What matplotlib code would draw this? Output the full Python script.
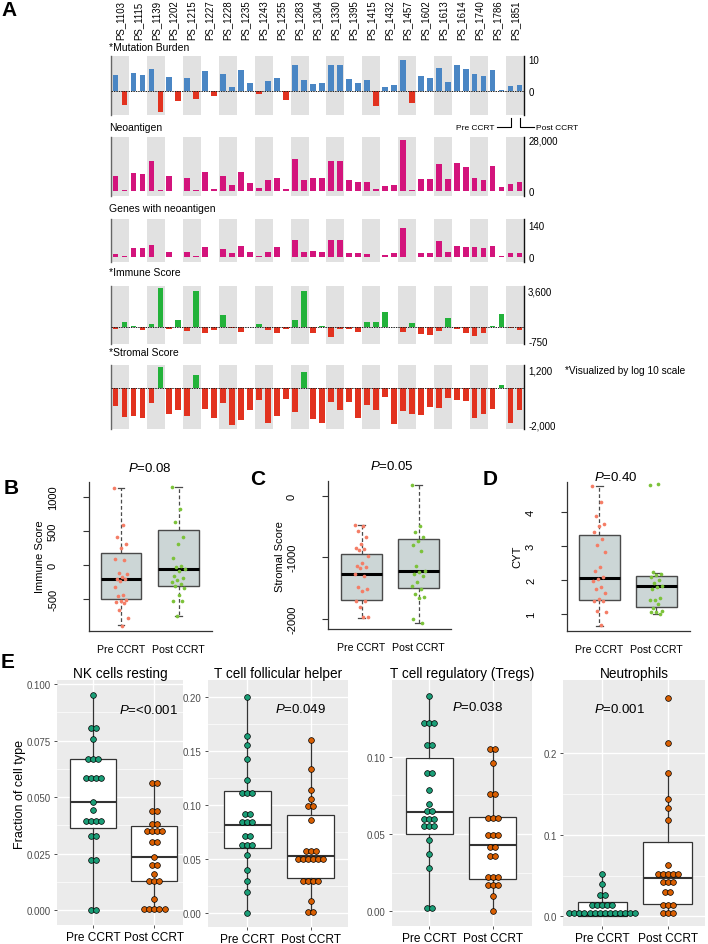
import matplotlib
matplotlib.use('Agg')
import matplotlib.pyplot as plt
from matplotlib.transforms import blended_transform_factory
from matplotlib.lines import Line2D
import numpy as np

plt.rcParams['font.family'] = ['Liberation Sans', 'DejaVu Sans']
plt.rcParams['mathtext.fontset'] = 'custom'
plt.rcParams['mathtext.it'] = 'Liberation Sans:italic'
plt.rcParams['mathtext.rm'] = 'Liberation Sans'

# ---------------- Panel A data (pre / post CCRT per patient) ----------------
patients = ['PS_1103', 'PS_1115', 'PS_1139', 'PS_1202', 'PS_1215', 'PS_1227', 'PS_1228',
            'PS_1235', 'PS_1243', 'PS_1255', 'PS_1283', 'PS_1304', 'PS_1330', 'PS_1395',
            'PS_1415', 'PS_1432', 'PS_1457', 'PS_1602', 'PS_1613', 'PS_1614', 'PS_1740',
            'PS_1786', 'PS_1851']
mut_pre = [4.9, 5.6, 7.0, 4.5, 3.9, 6.1, 5.3, 6.4, -1.0, 4.1, 8.0, 2.2, 8.0, 3.7, 3.3, 1.1,
           9.7, 4.7, 7.3, 8.0, 5.4, 6.6, 1.4]
mut_post = [-4.5, 5.1, -6.6, -3.1, -2.6, -1.6, 1.3, 2.6, 3.1, -2.9, 3.5, 2.4, 8.0, 2.6, -4.7,
            2.0, -3.9, 3.9, 2.9, 7.0, 4.8, 0.2, 2.0]
neo_pre = [8300, 10100, 16200, 8300, 7400, 10500, 8300, 10500, 1500, 7400, 17800, 7400, 16600,
           5900, 5200, 2900, 28000, 6800, 14700, 15500, 7400, 13800, 4000]
neo_post = [700, 9200, 600, 300, 700, 1100, 3100, 4600, 5900, 1300, 6300, 7000, 16600, 5200,
            900, 3500, 700, 6400, 6800, 13200, 6100, 2200, 4800]
genes_pre = [14, 40, 53, 24, 24, 43, 33, 50, 3, 45, 73, 27, 73, 19, 14, 10, 128, 17, 69, 48,
             45, 48, 16]
genes_post = [3, 40, 0, 0, 3, 2, 19, 20, 24, 2, 24, 24, 73, 19, 2, 16, 2, 17, 24, 46, 39, 4, 17]
imm_pre = [-200, 60, 290, -180, -320, -500, 1080, -440, 290, -500, 590, -500, -850, -200, 440,
           1320, -440, -640, -380, -180, -760, 60, -120]
imm_post = [440, -230, 3460, 640, 3160, -260, -60, -30, -290, -200, 3160, 60, -200, -440, 440,
            -20, 320, -730, 820, -500, -500, 1170, -290]
strom_pre = [-940, -1460, -800, -1370, -1460, -1110, -800, -1660, -650, -1460, -1230, -1610,
             -750, -720, -890, -460, -1200, -1410, -1060, -650, -1590, -1110, -1830]
strom_post = [-1530, -1540, 1080, -1170, 690, -1580, -1920, -1150, -1830, -580, 820, -1830,
              -1150, -1590, -1150, -1870, -1340, -990, -500, -690, -1370, 140, -1150]

# ---------------- Panels B-D data ----------------
groups = ['Pre CCRT', 'Post CCRT']
imm_box_pre = [-887, -500, -215, 167, 1130]      # whislo, q1, med, q3, whishi
imm_box_post = [-750, -307, -57, 515, 1140]
imm_pts_pre = [1127, 583, 412, 309, 245, 83, 64, -123, -130, -186, -211, -216, -240, -333,
               -446, -456, -515, -534, -544, -559, -671, -784, -897]
imm_pts_post = [1147, 818, 632, 402, 304, 93, -20, -34, -64, -100, -172, -190, -225, -260,
                -280, -309, -348, -446, -529, -529, -750]
strom_box_pre = [-1990, -1701, -1277, -951, -478]
strom_box_post = [-2076, -1495, -1218, -696, 185]
strom_pts_pre = [-473, -495, -565, -663, -788, -848, -864, -886, -984, -1100, -1136, -1158,
                 -1180, -1277, -1300, -1489, -1517, -1549, -1707, -1707, -1805, -1968, -1979]
strom_pts_post = [185, -495, -593, -674, -729, -800, -892, -1150, -1218, -1234, -1272, -1300,
                  -1408, -1462, -1517, -1598, -1652, -1669, -2006, -2071]
cyt_box_pre = [0.66, 1.41, 2.06, 3.32, 4.76]
cyt_box_post = [1.01, 1.21, 1.84, 2.14, 2.22]
cyt_pts_pre = [4.76, 4.29, 3.90, 3.67, 3.60, 3.43, 3.22, 3.03, 2.82, 2.38, 2.28, 2.10, 2.05,
               1.97, 1.80, 1.73, 1.63, 1.45, 1.40, 1.38, 1.11, 1.08, 0.68]
cyt_pts_post = [4.79, 4.82, 2.24, 2.19, 2.16, 2.10, 2.00, 1.92, 1.84, 1.80, 1.73, 1.47, 1.43,
                1.41, 1.31, 1.20, 1.11, 1.08, 1.06, 1.01]

# ---------------- Panel E data (dot value, dots in row) ----------------
nk_pre_v = [0.0951, 0.0807, 0.0757, 0.0670, 0.0585, 0.0479, 0.0442, 0.0394, 0.0327, 0.0223, 0.0]
nk_pre_n = [1, 2, 1, 3, 4, 1, 1, 4, 2, 2, 2]
nk_post_v = [0.0563, 0.0438, 0.0382, 0.0351, 0.0301, 0.0233, 0.0201, 0.0159, 0.0128, 0.0050,
             0.0004]
nk_post_n = [2, 2, 2, 4, 2, 1, 2, 1, 3, 1, 5]
nk_box_pre = [0.0, 0.0363, 0.0479, 0.0670, 0.0951]
nk_box_post = [0.0004, 0.0128, 0.0235, 0.0370, 0.0563]

tfh_pre_v = [0.200, 0.1636, 0.1555, 0.1428, 0.1230, 0.1115, 0.0914, 0.0842, 0.0718, 0.0628,
             0.0536, 0.0396, 0.0300, 0.0195, 0.0]
tfh_pre_n = [1, 1, 1, 1, 1, 3, 2, 3, 2, 3, 1, 1, 1, 1, 1]
tfh_post_v = [0.1604, 0.1338, 0.1137, 0.1053, 0.0988, 0.0861, 0.0576, 0.0502, 0.0300, 0.0112,
              0.0015]
tfh_post_n = [1, 1, 1, 1, 2, 1, 3, 6, 4, 1, 2]
tfh_box_pre = [0.0, 0.0607, 0.082, 0.113, 0.200]
tfh_box_post = [0.0015, 0.0325, 0.0533, 0.0907, 0.1604]

treg_pre_v = [0.1395, 0.1220, 0.1078, 0.0893, 0.0787, 0.0694, 0.0651, 0.0597, 0.0550, 0.0461,
              0.0369, 0.0280, 0.0019]
treg_pre_n = [1, 3, 2, 2, 1, 1, 2, 3, 3, 1, 1, 1, 2]
treg_post_v = [0.1048, 0.0959, 0.0757, 0.0603, 0.0496, 0.0416, 0.0360, 0.0222, 0.0172, 0.0097,
               0.0]
treg_post_n = [2, 1, 2, 3, 3, 2, 2, 3, 3, 1, 1]
treg_box_pre = [0.0019, 0.0498, 0.0642, 0.099, 0.1395]
treg_box_post = [0.0, 0.0209, 0.0429, 0.0608, 0.1048]

neu_pre_v = [0.0519, 0.0392, 0.0261, 0.0139, 0.004]
neu_pre_n = [1, 1, 2, 5, 14]
neu_post_v = [0.268, 0.213, 0.176, 0.144, 0.133, 0.1185, 0.0626, 0.0515, 0.0425, 0.0298,
              0.0135, 0.004]
neu_post_n = [1, 1, 1, 1, 1, 1, 1, 5, 3, 2, 3, 3]
neu_box_pre = [0.0007, 0.0007, 0.0012, 0.0172, 0.0519]
neu_box_post = [0.004, 0.0151, 0.0474, 0.0908, 0.176]

# ---------------- figure helpers (pixel layout) ----------------
W, H = 708, 945
fig = plt.figure(figsize=(W / 100, H / 100), dpi=100)


def px_axes(left, top, right, bottom):
    return fig.add_axes([left / W, 1 - bottom / H, (right - left) / W, (bottom - top) / H])


def ftext(x, y, s, **kw):
    return fig.text(x / W, 1 - y / H, s, **kw)


def fline(xs, ys, **kw):
    fig.add_artist(Line2D([x / W for x in xs], [1 - y / H for y in ys],
                          transform=fig.transFigure, **kw))


BLUE, RED, MAG, GRN = '#4a86c4', '#e2321f', '#d3147c', '#22b23a'

# ---------------- Panel A ----------------
AL, AR = 111, 524
rows = [
    dict(title='*Mutation Burden', ty=48, top=57, bot=116, pre=mut_pre, post=mut_post,
         ylim=(-7.5, 10.9), ticks=[0, 10], labels=['0', '10'], pos=BLUE, neg=RED, line=True),
    dict(title='Neoantigen', ty=128, top=138, bot=197, pre=neo_pre, post=neo_post,
         ylim=(-2700, 29600), ticks=[0, 28000], labels=['0', '28,000'], pos=MAG, neg=MAG,
         line=False),
    dict(title='Genes with neoantigen', ty=209, top=220, bot=263, pre=genes_pre,
         post=genes_post, ylim=(-22, 167), ticks=[0, 140], labels=['0', '140'], pos=MAG,
         neg=MAG, line=False),
    dict(title='*Immune Score', ty=273, top=287, bot=345, pre=imm_pre, post=imm_post,
         ylim=(-1480, 3600), ticks=[-1190, 3245], labels=['-750', '3,600'], pos=GRN, neg=RED,
         line=True),
    dict(title='*Stromal Score', ty=353, top=366, bot=430, pre=strom_pre, post=strom_post,
         ylim=(-2140, 1200), ticks=[-1880, 940], labels=['-2,000', '1,200'], pos=GRN, neg=RED,
         line=True),
]
n = len(patients)
x = np.arange(n)
axes_a = []
for r in rows:
    ax = px_axes(AL, r['top'], AR, r['bot'])
    axes_a.append(ax)
    for k in range(0, n, 2):
        ax.axvspan(k - 0.5, k + 0.5, color='#e1e1e1', lw=0, zorder=0)
    for vals, off in ((r['pre'], -0.25), (r['post'], 0.25)):
        v = np.array(vals, dtype=float)
        ax.bar(x + off, v, width=0.32, color=np.where(v >= 0, r['pos'], r['neg']), zorder=2)
    if r['line']:
        ax.axhline(0, color='#222222', lw=0.7, ls=(0, (1.5, 1.0)), zorder=3)
    ax.set_xlim(-0.5, n - 0.5)
    ax.set_ylim(*r['ylim'])
    ax.set_xticks([])
    ax.yaxis.tick_right()
    ax.set_yticks(r['ticks'], r['labels'])
    ax.tick_params(axis='y', length=0, pad=3, labelsize=7)
    ax.spines['top'].set_visible(False)
    ax.spines['bottom'].set_visible(False)
    ax.spines['left'].set_color('#666666')
    ax.spines['left'].set_linewidth(1.0)
    ax.spines['right'].set_color('#111111')
    ax.spines['right'].set_linewidth(1.0)
    ax.patch.set_visible(False)
    ftext(109, r['ty'], r['title'], fontsize=7.5, va='center', ha='left')

tr = blended_transform_factory(axes_a[0].transData, axes_a[0].transAxes)
for i, p in enumerate(patients):
    axes_a[0].text(i, 1 + 17.5 / 59, p, transform=tr, rotation=90, ha='center', va='bottom',
                   fontsize=6.9)

# pre/post marker under the mutation row
slot = (AR - AL) / n
xpre = AL + (n - 1 + 0.5 - 0.25) * slot
xpost = AL + (n - 1 + 0.5 + 0.25) * slot
fline([xpre, xpre, xpre - 14], [119, 128, 128], color='k', lw=0.8)
fline([xpost, xpost, xpost + 14], [119, 128, 128], color='k', lw=0.8)
ftext(xpre - 16, 128, 'Pre CCRT', fontsize=6, ha='right', va='center')
ftext(xpost + 16, 128, 'Post CCRT', fontsize=6, ha='left', va='center')
ftext(565, 371, '*Visualized by log 10 scale', fontsize=7.3, ha='left', va='center')

# ---------------- Panels B-D (base R style) ----------------
PRE_C, POST_C = '#f47d66', '#7cc23a'


def rpanel(box, title, tx, ty, ylabel, ylx, bpre, bpost, ppre, ppost, ylim, xlim, ticks):
    ax = px_axes(*box)
    stats = [dict(whislo=b[0], q1=b[1], med=b[2], q3=b[3], whishi=b[4], fliers=[])
             for b in (bpre, bpost)]
    ax.bxp(stats, positions=[1, 2], widths=0.71, patch_artist=True, showfliers=False,
           manage_ticks=False,
           boxprops=dict(facecolor='#ccd6d6', edgecolor='#4a4a4a', lw=1.0),
           medianprops=dict(color='black', lw=2.2),
           whiskerprops=dict(color='#4a4a4a', lw=0.9, ls=(0, (3, 2))),
           capprops=dict(color='#4a4a4a', lw=0.9), capwidths=0.12)
    for pos, pts, c in ((1, ppre, PRE_C), (2, ppost, POST_C)):
        k = np.arange(len(pts))
        jit = ((k * 0.618034) % 1.0 - 0.5) * 0.24
        ax.scatter(pos + jit, pts, s=7, color=c, lw=0, zorder=4)
    ax.set_xlim(*xlim)
    ax.set_ylim(*ylim)
    ax.spines['top'].set_visible(False)
    ax.spines['right'].set_visible(False)
    for s in ('left', 'bottom'):
        ax.spines[s].set_color('#333333')
        ax.spines[s].set_linewidth(0.9)
    ax.set_yticks(ticks, [str(t) for t in ticks])
    for t in ax.get_yticklabels():
        t.set_rotation(90)
        t.set_va('center')
    ax.tick_params(axis='y', length=4.3, width=0.8, pad=18, labelsize=8, color='#333333')
    ax.set_xticks([1, 2], groups)
    ax.tick_params(axis='x', length=0, pad=9.5, labelsize=7.6)
    ax.patch.set_visible(False)
    ftext(tx, ty, title, fontsize=9.5, ha='center', va='center')
    ftext(ylx, 557, ylabel, fontsize=8, rotation=90, ha='center', va='center')
    return ax


rpanel((89, 483, 212, 632), '$P$=0.08', 150, 469, 'Immune Score', 40,
       imm_box_pre, imm_box_post, imm_pts_pre, imm_pts_post, (-975, 1216), (0.445, 2.58),
       [-500, 0, 500, 1000])
rpanel((328, 482, 451, 630), '$P$=0.05', 392, 467, 'Stromal Score', 280,
       strom_box_pre, strom_box_post, strom_pts_pre, strom_pts_post, (-2170, 245),
       (0.41, 2.57), [-2000, -1000, 0])
rpanel((567, 483, 690, 632), '$P$=0.40', 616, 478, 'CYT', 517,
       cyt_box_pre, cyt_box_post, cyt_pts_pre, cyt_pts_post, (0.51, 4.89), (0.433, 2.59),
       [1, 2, 3, 4])

# ---------------- Panel E (ggplot style dot + box) ----------------
DOT_PRE, DOT_POST = '#1b9e77', '#d95f02'


def epanel(box, title, ptxt, px, py, xlim, ylim, ticks, fmt, bpre, bpost, vpre, npre,
           vpost, npost):
    left, top, right, bottom = box
    ax = px_axes(*box)
    ax.set_facecolor('#ebebeb')
    for s in ax.spines.values():
        s.set_visible(False)
    stats = [dict(whislo=b[0], q1=b[1], med=b[2], q3=b[3], whishi=b[4], fliers=[])
             for b in (bpre, bpost)]
    ax.bxp(stats, positions=[1, 2], widths=0.75, patch_artist=True, showfliers=False,
           showcaps=False, manage_ticks=False,
           boxprops=dict(facecolor='white', edgecolor='#333333', lw=0.9),
           medianprops=dict(color='#333333', lw=1.5),
           whiskerprops=dict(color='#333333', lw=0.9))
    ppu = (right - left) / (xlim[1] - xlim[0])
    step = 5.1 / ppu
    for pos, vals, cnts, c in ((1, vpre, npre, DOT_PRE), (2, vpost, npost, DOT_POST)):
        for v, m in zip(vals, cnts):
            xs = pos + (np.arange(m) - (m - 1) / 2) * step
            ax.scatter(xs, [v] * m, s=17, color=c, edgecolor='black', lw=0.5, zorder=5)
    ax.set_xlim(*xlim)
    ax.set_ylim(*ylim)
    ax.set_yticks(ticks, [fmt.format(t) for t in ticks])
    minors = [(a + b) / 2 for a, b in zip(ticks[:-1], ticks[1:])]
    ax.set_yticks(minors, minor=True)
    ax.set_xticks([1, 2], groups)
    ax.grid(True, which='major', color='white', lw=1.0)
    ax.grid(True, which='minor', axis='y', color='white', lw=0.5)
    ax.set_axisbelow(True)
    ax.tick_params(axis='y', which='minor', length=0)
    ax.tick_params(axis='both', which='major', length=2.5, width=0.6, color='#333333')
    ax.tick_params(axis='y', labelsize=7, labelcolor='#4d4d4d', pad=2)
    ax.tick_params(axis='x', labelsize=8.6, labelcolor='black', pad=1.5)
    ftext((left + right) / 2, 674, title, fontsize=9.8, ha='center', va='center')
    ftext(px, py, ptxt, fontsize=9.5, ha='center', va='center')
    return ax


epanel((57, 681, 183, 926), 'NK cells resting', '$P$=<0.001', 148, 711, (0.405, 2.47),
       (-0.0066, 0.1018), [0.0, 0.025, 0.05, 0.075, 0.1], '{:.3f}',
       nk_box_pre, nk_box_post, nk_pre_v, nk_pre_n, nk_post_v, nk_post_n)
epanel((208, 681, 348, 928), 'T cell follicular helper', '$P$=0.049', 301, 710,
       (0.38, 2.59), (-0.0127, 0.2158), [0.0, 0.05, 0.10, 0.15, 0.20], '{:.2f}',
       tfh_box_pre, tfh_box_post, tfh_pre_v, tfh_pre_n, tfh_post_v, tfh_post_n)
epanel((392, 681, 532, 927), 'T cell regulatory (Tregs)', '$P$=0.038', 478, 708,
       (0.41, 2.62), (-0.0095, 0.1496), [0.0, 0.05, 0.10], '{:.2f}',
       treg_box_pre, treg_box_post, treg_pre_v, treg_pre_n, treg_post_v, treg_post_n)
epanel((563, 681, 705, 927), 'Neutrophils', '$P$=0.001', 620, 710,
       (0.40, 2.57), (-0.0118, 0.29), [0.0, 0.1, 0.2], '{:.1f}',
       neu_box_pre, neu_box_post, neu_pre_v, neu_pre_n, neu_post_v, neu_post_n)
ftext(20, 795, 'Fraction of cell type', fontsize=9, rotation=90, ha='center', va='center')

# panel letters
for letter, lx, ly in (('A', 9, 11), ('B', 11, 489), ('C', 258, 480), ('D', 490, 480),
                       ('E', 8, 662)):
    ftext(lx, ly, letter, fontsize=15, fontweight='bold', ha='center', va='center')

fig.savefig('out.png', dpi=100)
